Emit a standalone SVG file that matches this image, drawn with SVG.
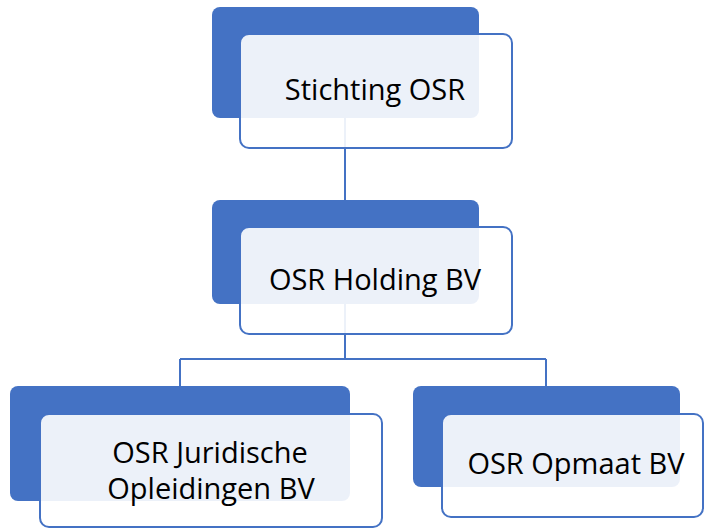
<svg xmlns="http://www.w3.org/2000/svg" width="704" height="529" viewBox="0 0 704 529">
<style>
.back{fill:#4472C4;}
.front{fill:#FFFFFF;fill-opacity:0.9;stroke:#4472C4;stroke-width:2;}
.lbl{font-family:"Open Sans","Liberation Sans",sans-serif;font-size:29px;fill:#000000;text-anchor:middle;}
.conn{fill:none;stroke:#4472C4;stroke-width:2;}
</style>
<rect width="704" height="529" fill="#FFFFFF"/>
<g id="connectors">
<path class="conn" d="M345,118 V200"/>
<path class="conn" d="M345,304 V359 M180,359 H546 M180,359 V386 M546,359 V386"/>
</g>
<g id="node-stichting">
<rect class="back" x="212" y="7" width="267" height="111" rx="8"/>
<rect class="front" x="240" y="34" width="272" height="114" rx="9"/>
<text class="lbl" x="375" y="100">Stichting OSR</text>
</g>
<g id="node-holding">
<rect class="back" x="212" y="200" width="267" height="104" rx="8"/>
<rect class="front" x="240" y="227" width="272" height="107" rx="9"/>
<text class="lbl" x="375" y="290">OSR Holding BV</text>
</g>
<g id="node-juridische">
<rect class="back" x="10" y="386" width="340" height="115" rx="8"/>
<rect class="front" x="40" y="414" width="342" height="113" rx="9"/>
<text class="lbl" x="210" y="463">OSR Juridische</text>
<text class="lbl" x="211" y="499">Opleidingen BV</text>
</g>
<g id="node-opmaat">
<rect class="back" x="413" y="386" width="267" height="101" rx="8"/>
<rect class="front" x="442" y="414" width="261" height="103" rx="9"/>
<text class="lbl" x="576" y="474">OSR Opmaat BV</text>
</g>
</svg>
